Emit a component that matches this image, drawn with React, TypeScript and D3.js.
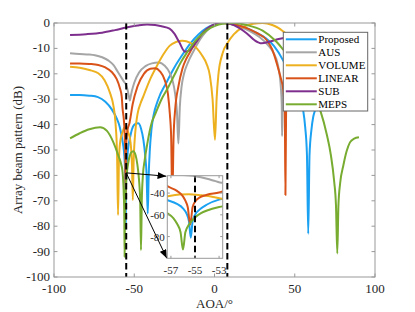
import React from 'react';
import * as d3 from 'd3';

type Pt = [number, number];

// [angle (deg), beam pattern (dB)]
const proposed: Pt[] = [
  [-90, -28.3], [-84, -28.3], [-78, -28.6], [-72.6, -29.2], [-68, -31], [-64, -34], [-61, -37.5], [-59, -41],
  [-57.3, -46.5], [-56.5, -50], [-56, -54], [-55.7, -59], [-55.5, -66], [-55.35, -81], [-55.2, -66], [-55, -60],
  [-54.6, -55], [-54, -50.5], [-53, -46], [-52.7, -45.2], [-51.5, -42], [-49.5, -39.8], [-47.5, -39.5],
  [-45.8, -41.5], [-44.3, -46], [-43.2, -52], [-42.3, -60], [-41.6, -75], [-41, -60], [-40.3, -50], [-39.3, -42],
  [-38, -36.5], [-35, -30], [-30, -23.5], [-25, -17.5], [-20, -12.5], [-15, -8], [-10, -4.5], [-5, -2], [0, -0.6],
  [7, 0], [12, -0.5], [18, -1.6], [25, -3.5], [32, -6], [37, -9], [43, -15], [48, -22], [52, -28], [55.3, -34.6],
  [56.5, -41], [57.6, -52], [58.4, -83], [59.2, -52], [60.4, -42], [61.5, -37], [62.5, -34.6], [66, -28],
  [72, -24], [80, -22], [90, -22],
];
const aus: Pt[] = [
  [-90, -11.9], [-84, -12.2], [-78, -12.4], [-74.5, -12.7], [-70, -13.5], [-66, -14.8], [-63, -16.5], [-60, -19.5],
  [-58, -21.5], [-56.5, -23], [-55, -24.5], [-54, -26.8], [-53.3, -29], [-52.8, -30.5], [-52.3, -29.2],
  [-51.5, -26.8], [-50, -23.5], [-47, -19.5], [-43, -17], [-39, -15.9], [-35, -15.6], [-31, -16.8], [-28, -19.5],
  [-26, -23], [-24.5, -28], [-23.4, -35], [-22.5, -47.4], [-21.6, -33], [-20.5, -25], [-19, -20], [-16.5, -15.5],
  [-13, -11], [-9, -6.5], [-5, -3.2], [-1, -1], [5, 0], [10, -0.4], [16, -1.5], [22, -3.2], [28, -5.5], [33, -8.5],
  [37, -12], [39.5, -16.5], [41.3, -25], [41.9, -32], [42.1, -44.5], [42.5, -32], [43.5, -24], [48, -19],
  [55, -15], [65, -14], [75, -15], [90, -18],
];
const volume: Pt[] = [
  [-90, -17.2], [-84, -17.6], [-78, -18.5], [-72.4, -19.8], [-68.5, -22.5], [-65, -27.7], [-63, -32.5],
  [-61.6, -40], [-60.7, -52], [-60.1, -75.6], [-59.5, -53], [-58.7, -46.5], [-57.3, -43], [-56.3, -41.3],
  [-55.5, -41], [-54.5, -42], [-53.5, -43.5], [-52.7, -45.5], [-52, -49], [-51.4, -56], [-50.9, -69.7],
  [-50.4, -55], [-49.5, -44], [-48, -36], [-46, -31.5], [-44.4, -29], [-40, -22], [-36, -17], [-32, -12.5],
  [-28, -9], [-24, -7.5], [-20, -7], [-15, -7.8], [-11, -10], [-8, -12.5], [-5, -16], [-2.8, -21], [-1.2, -30],
  [0.3, -46], [1.3, -30], [2.4, -20.5], [5, -12], [8.6, -7.4], [12, -4.5], [18, -1.5], [24, -0.3], [30, 0],
  [36, -0.8], [40, -2], [43, -3.4], [50, -7], [60, -14], [70, -20], [80, -25], [90, -28],
];
const linear: Pt[] = [
  [-90, -15.9], [-84, -15.9], [-78, -16.1], [-72.4, -16.5], [-68, -17.5], [-64, -19.3], [-61, -22], [-59, -25.5],
  [-57.8, -29], [-57.3, -33.5], [-56.5, -38], [-56, -43], [-55.8, -47], [-55.6, -53], [-55.4, -69], [-55.2, -53],
  [-55, -48], [-54.6, -44], [-54, -41.5], [-53, -39.5], [-52.7, -38.5], [-51, -32], [-48, -25], [-44, -20],
  [-40, -18], [-37, -17.8], [-34, -19], [-31, -22.5], [-29, -28], [-27.8, -36], [-27, -45], [-26.3, -70],
  [-25.5, -45], [-24.5, -34], [-22.5, -25], [-20, -18], [-17.5, -14], [-15.3, -11.5], [-12, -8], [-8, -4.5],
  [-4, -2], [0, -0.7], [5, 0], [10, -0.3], [15, -1], [20, -2], [26, -3.8], [32.5, -6.7], [36, -10.5],
  [38.8, -15.9], [41, -21], [43, -27], [43.8, -35], [44.2, -67.7], [44.6, -35], [45.5, -28], [50, -24],
  [60, -19], [70, -20], [80, -22], [90, -24],
];
const sub: Pt[] = [
  [-90, -4.7], [-80, -4.4], [-70, -3.8], [-62, -2.8], [-55, -1.8], [-48, -1], [-42, -0.6], [-37, -0.8],
  [-33, -1.3], [-28, -2.2], [-25, -4.2], [-22, -7.5], [-18.4, -11.3], [-15.5, -10.8], [-12, -8], [-8, -4.5],
  [-4, -2], [0, -0.6], [6, 0], [10, -0.4], [15, -1.8], [20, -4], [25, -6.8], [29.4, -8], [34, -7.4], [40, -6.3],
  [46, -5.7], [55, -5.5], [65, -6.5], [75, -8], [90, -10],
];
const meps: Pt[] = [
  [-90, -45.4], [-84, -43.4], [-78, -41.8], [-71.3, -41], [-67, -42.5], [-63, -47], [-60, -52], [-58, -56],
  [-57.3, -58.5], [-56.8, -63], [-56.5, -68], [-56.2, -76], [-56, -92], [-55.8, -76], [-55.5, -69], [-55, -62.5],
  [-54.5, -58.5], [-54, -56], [-53, -52.8], [-52, -51], [-50.6, -50.5], [-49.2, -52], [-48, -56], [-47, -62],
  [-46.3, -70], [-45.8, -89.4], [-45.3, -70], [-44.6, -60], [-43.5, -54], [-42, -48], [-39, -39], [-37, -36],
  [-33, -30], [-29, -25.5], [-25, -20.5], [-21, -15.5], [-17, -11.5], [-12, -7], [-8, -4.5], [-4, -2.5],
  [0, -1.2], [5, -0.3], [12, 0], [20, -0.8], [30, -3], [38, -7], [43, -10.6], [50, -16], [58, -25], [66, -34.6],
  [70, -44], [72.5, -52], [74.5, -62], [75.7, -72], [76.5, -90.7], [77.2, -72], [78.3, -63], [80.3, -56],
  [82.3, -50.5], [84.4, -47], [87, -45.5], [90, -45],
];

const seriesNames = ['Proposed', 'AUS', 'VOLUME', 'LINEAR', 'SUB', 'MEPS'];
const seriesColors = ['#1ba1f2', '#a5a5a5', '#edb120', '#d95319', '#7e2f8e', '#77ac30'];
const seriesData = [proposed, aus, volume, linear, sub, meps];

const xTicks = [-100, -50, 0, 50, 100];
const yTicks = [0, -10, -20, -30, -40, -50, -60, -70, -80, -90, -100];
const insetXTicks = [-57, -55, -53];
const insetYTicks = [-40, -60, -80];
const markerAngles = [-55, 8];
const arrowFromDb = -59;

const W = 415;
const H = 312;
const plot = { left: 54, right: 375, top: 23, bottom: 277 };
const inset = { left: 167.3, right: 222.7, top: 175.7, bottom: 258.3 };
const font = '"Liberation Serif", "Times New Roman", serif';
const axisColor = '#999';
const textColor = '#262626';

const x = d3.scaleLinear().domain([-100, 100]).range([plot.left, plot.right]);
const y = d3.scaleLinear().domain([-100, 0]).range([plot.bottom, plot.top]);
const ix = d3.scaleLinear().domain([-57.3, -52.7]).range([inset.left, inset.right]);
const iy = d3.scaleLinear().domain([-100, -24]).range([inset.bottom, inset.top]);

const mainLine = d3.line<Pt>().x(d => x(d[0])).y(d => y(d[1])).curve(d3.curveMonotoneX);
const insetLine = d3.line<Pt>().x(d => ix(d[0])).y(d => iy(d[1])).curve(d3.curveMonotoneX);

const App = () => {
  const ax = x(markerAngles[0]);
  const ay = y(arrowFromDb);
  const targets: Pt[] = [
    [inset.left - 1, inset.top + 0.5],
    [inset.left - 0.5, inset.bottom],
  ];
  const legendX = 283.3;
  const legendY = 32.3;
  return (
    <svg width={W} height={H} style={{ position: 'absolute', left: 0, top: 0, background: '#fff' }}>
      <defs>
        <clipPath id="plotClip">
          <rect x={plot.left} y={plot.top} width={plot.right - plot.left} height={plot.bottom - plot.top} />
        </clipPath>
        <clipPath id="insetClip">
          <rect x={inset.left} y={inset.top} width={inset.right - inset.left} height={inset.bottom - inset.top} />
        </clipPath>
        <marker id="arrow" viewBox="0 0 10 8" refX="10" refY="4" markerWidth="9" markerHeight="7"
          markerUnits="userSpaceOnUse" orient="auto">
          <path d="M0,0 L10,4 L0,8 Z" fill="#000" />
        </marker>
      </defs>

      <g clipPath="url(#plotClip)">
        {seriesData.map((d, i) => (
          <path key={i} d={mainLine(d) ?? ''} fill="none" stroke={seriesColors[i]} strokeWidth={2} strokeLinejoin="round" />
        ))}
        {markerAngles.map(a => (
          <line key={a} x1={x(a)} x2={x(a)} y1={plot.top} y2={plot.bottom} stroke="#000" strokeWidth={2} strokeDasharray="6.5,3.5" />
        ))}
      </g>

      {/* axes box and ticks */}
      <rect x={plot.left} y={plot.top} width={plot.right - plot.left} height={plot.bottom - plot.top} fill="none" stroke={axisColor} strokeWidth={1} />
      {xTicks.map(t => (
        <g key={t}>
          <line x1={x(t)} x2={x(t)} y1={plot.bottom} y2={plot.bottom - 3.5} stroke={axisColor} />
          <line x1={x(t)} x2={x(t)} y1={plot.top} y2={plot.top + 3.5} stroke={axisColor} />
          <text x={x(t)} y={292.5} textAnchor="middle" fontFamily={font} fontSize={13} fill={textColor}>{t}</text>
        </g>
      ))}
      {yTicks.map(t => (
        <g key={t}>
          <line x1={plot.left} x2={plot.left + 3.5} y1={y(t)} y2={y(t)} stroke={axisColor} />
          <line x1={plot.right} x2={plot.right - 3.5} y1={y(t)} y2={y(t)} stroke={axisColor} />
          <text x={50} y={y(t) + 4} textAnchor="end" fontFamily={font} fontSize={13} fill={textColor}>{t}</text>
        </g>
      ))}
      <text x={(plot.left + plot.right) / 2} y={308} textAnchor="middle" fontFamily={font} fontSize={13} fill={textColor}>AOA/°</text>
      <text transform={`translate(22,${(plot.top + plot.bottom) / 2}) rotate(-90)`} textAnchor="middle" fontFamily={font} fontSize={13} fill={textColor}>
        Array beam pattern (dB)
      </text>

      {/* arrows to the zoomed view */}
      {targets.map((t, i) => (
        <line key={i} x1={ax} y1={ay} x2={t[0]} y2={t[1]} stroke="#000" strokeWidth={1} markerEnd="url(#arrow)" />
      ))}

      {/* inset */}
      <rect x={inset.left} y={inset.top} width={inset.right - inset.left} height={inset.bottom - inset.top} fill="#fff" />
      <g clipPath="url(#insetClip)">
        {seriesData.map((d, i) => (
          <path key={i} d={insetLine(d) ?? ''} fill="none" stroke={seriesColors[i]} strokeWidth={2} strokeLinejoin="round" />
        ))}
        <line x1={ix(-55)} x2={ix(-55)} y1={inset.top} y2={inset.bottom} stroke="#000" strokeWidth={2} strokeDasharray="6.5,3.5" />
      </g>
      <rect x={inset.left} y={inset.top} width={inset.right - inset.left} height={inset.bottom - inset.top} fill="none" stroke={axisColor} strokeWidth={1} />
      {insetXTicks.map(t => (
        <g key={t}>
          <line x1={ix(t)} x2={ix(t)} y1={inset.bottom} y2={inset.bottom - 2.5} stroke={axisColor} />
          <line x1={ix(t)} x2={ix(t)} y1={inset.top} y2={inset.top + 2.5} stroke={axisColor} />
          <text x={ix(t)} y={274} textAnchor="middle" fontFamily={font} fontSize={11} fill={textColor}>{t}</text>
        </g>
      ))}
      {insetYTicks.map(t => (
        <g key={t}>
          <line x1={inset.left} x2={inset.left + 2.5} y1={iy(t)} y2={iy(t)} stroke={axisColor} />
          <line x1={inset.right} x2={inset.right - 2.5} y1={iy(t)} y2={iy(t)} stroke={axisColor} />
          <text x={inset.left - 2.5} y={iy(t) + 4} textAnchor="end" fontFamily={font} fontSize={11} fill={textColor}>{t}</text>
        </g>
      ))}

      {/* legend */}
      <rect x={legendX} y={legendY} width={84.4} height={78.7} fill="#fff" stroke="#666" strokeWidth={1} />
      {seriesNames.map((n, i) => {
        const ly = legendY + 7 + i * 13;
        return (
          <g key={n}>
            <line x1={legendX + 2.5} x2={legendX + 33.5} y1={ly} y2={ly} stroke={seriesColors[i]} strokeWidth={2} />
            <text x={legendX + 35} y={ly + 4} fontFamily={font} fontSize={11} fill="#000">{n}</text>
          </g>
        );
      })}
    </svg>
  );
};

export default App;
